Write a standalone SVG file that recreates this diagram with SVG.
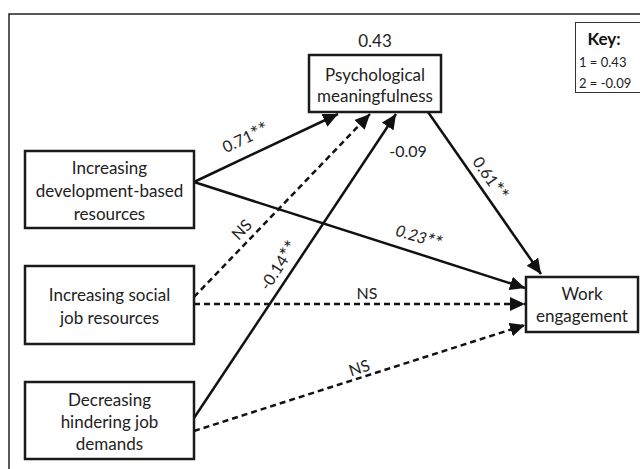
<svg xmlns="http://www.w3.org/2000/svg" width="640" height="469" viewBox="0 0 640 469">
<defs>
<style>
.box{fill:#fff;stroke:#1a1a1a;stroke-width:2.5}
.t{font-family:Lato,"Liberation Sans",sans-serif;font-size:17px;fill:#222;text-anchor:middle;dominant-baseline:central}
.lbl{font-family:Lato,"Liberation Sans",sans-serif;font-size:16px;fill:#222;text-anchor:middle;dominant-baseline:central}
.st{font-size:20px}
.ln{stroke:#111;stroke-width:2.5;fill:none}
.ds{stroke:#111;stroke-width:2.5;fill:none;stroke-dasharray:6 4}
</style>
<marker id="ah" markerUnits="userSpaceOnUse" markerWidth="16" markerHeight="14" refX="15" refY="7" orient="auto">
<path d="M0,0 L15,7 L0,14 Z" fill="#111"/>
</marker>
</defs>
<rect width="640" height="469" fill="#fff"/>
<path d="M9,469 V14 H640" fill="none" stroke="#222" stroke-width="1.5"/>
<g id="key">
<rect x="575.5" y="22.5" width="70" height="70" fill="#fff" stroke="#333" stroke-width="1"/>
<text x="604" y="38" style="font-family:Lato,'Liberation Sans',sans-serif;font-size:17px;font-weight:bold;fill:#111;text-anchor:middle;dominant-baseline:central">Key:</text>
<text x="579" y="62" style="font-family:Lato,'Liberation Sans',sans-serif;font-size:13px;fill:#222;dominant-baseline:central">1 = 0.43</text>
<text x="579" y="83" style="font-family:Lato,'Liberation Sans',sans-serif;font-size:13px;fill:#222;dominant-baseline:central">2 = -0.09</text>
</g>
<g id="connectors">
<line class="ln" x1="194" y1="182" x2="338" y2="114" marker-end="url(#ah)"/>
<line class="ln" x1="194" y1="182" x2="525" y2="288" marker-end="url(#ah)"/>
<line class="ds" x1="194" y1="297" x2="370" y2="114" marker-end="url(#ah)"/>
<line class="ds" x1="194" y1="304" x2="525" y2="304" marker-end="url(#ah)"/>
<line class="ln" x1="194" y1="418" x2="396" y2="114" marker-end="url(#ah)"/>
<line class="ds" x1="194" y1="431" x2="525" y2="325" marker-end="url(#ah)"/>
<line class="ln" x1="428" y1="112" x2="541" y2="274" marker-end="url(#ah)"/>
<text class="lbl" transform="translate(245,137) rotate(-25)">0.71<tspan class="st">**</tspan></text>
<text class="lbl" x="408" y="150">-0.09</text>
<text class="lbl" transform="translate(491,178) rotate(55)">0.61<tspan class="st">**</tspan></text>
<text class="lbl" transform="translate(241,229) rotate(-46)">NS</text>
<text class="lbl" transform="translate(419,236) rotate(17)" font-style="italic">0.23<tspan class="st">**</tspan></text>
<text class="lbl" transform="translate(278,265) rotate(-57)">-0.14<tspan class="st">**</tspan></text>
<text class="lbl" x="367" y="292">NS</text>
<text class="lbl" transform="translate(359,367) rotate(-18)">NS</text>
</g>
<g id="psych">
<text class="t" x="375" y="40">0.43</text>
<rect class="box" x="309" y="55" width="132" height="57"/>
<text class="t" x="375" y="74">Psychological</text>
<text class="t" x="375" y="95">meaningfulness</text>
</g>
<g id="dev">
<rect class="box" x="25" y="151" width="169" height="77"/>
<text class="t" x="109.5" y="167">Increasing</text>
<text class="t" x="109.5" y="190">development-based</text>
<text class="t" x="109.5" y="213">resources</text>
</g>
<g id="social">
<rect class="box" x="25" y="266" width="169" height="78"/>
<text class="t" x="109.5" y="294">Increasing social</text>
<text class="t" x="109.5" y="317">job resources</text>
</g>
<g id="hinder">
<rect class="box" x="25" y="382" width="169" height="77"/>
<text class="t" x="109.5" y="399">Decreasing</text>
<text class="t" x="109.5" y="421">hindering job</text>
<text class="t" x="109.5" y="443">demands</text>
</g>
<g id="work">
<rect class="box" x="526" y="277" width="112" height="55"/>
<text class="t" x="582" y="293">Work</text>
<text class="t" x="582" y="315">engagement</text>
</g>
</svg>
